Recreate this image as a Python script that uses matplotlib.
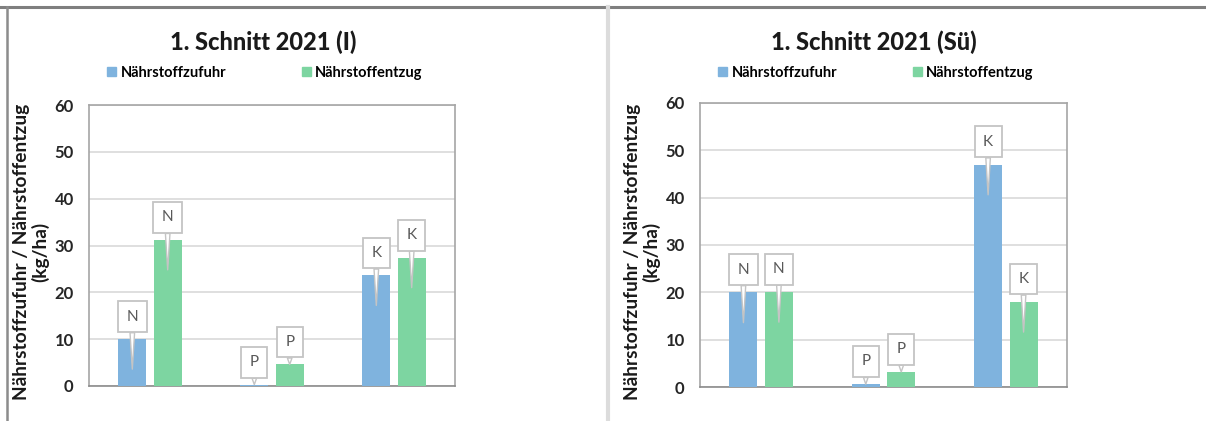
import matplotlib.pyplot as plt
import numpy as np
from matplotlib.lines import Line2D
from matplotlib.patches import Patch

plt.rcParams['font.family'] = ['Lato', 'DejaVu Sans']

# Data
naehrstoffe = ["N", "P", "K"]
titles = ["1. Schnitt 2021 (I)", "1. Schnitt 2021 (Sü)"]
zufuhr_I = [10.0, 0.3, 23.6]
entzug_I = [31.2, 4.6, 27.4]
zufuhr_Su = [20.0, 0.6, 47.0]
entzug_Su = [20.1, 3.2, 18.0]
series_names = ["Nährstoffzufuhr", "Nährstoffentzug"]
ylabel = "Nährstoffzufuhr / Nährstoffentzug\n(kg/ha)"

BLUE = "#7fb3de"
GREEN = "#7dd5a1"
W, H = 1206, 421

fig = plt.figure(figsize=(W / 100, H / 100), dpi=100)


def px(x, y):
    # pixel (from top-left) -> figure fraction
    return x / W, 1 - y / H


def callout(ax, x, value, label):
    box_y = value + 4.8
    tip = value - 6.4 if value > 8 else value
    ax.annotate(label, xy=(x, tip), xytext=(x, box_y), ha="center", va="center",
                fontsize=11, color="#595959",
                bbox=dict(boxstyle="square,pad=0.55", fc="white", ec="#c4c4c4", lw=1.3),
                arrowprops=dict(arrowstyle="wedge,tail_width=0.3,shrink_factor=0.5",
                                fc="white", ec="#c4c4c4", lw=1.0,
                                shrinkA=0, shrinkB=0),
                zorder=5)


def draw_panel(rect, zufuhr, entzug, title, cx, ylab_x):
    ax = fig.add_axes(rect)
    idx = np.arange(len(naehrstoffe))
    bw = 0.23
    off = 0.145
    ax.bar(idx - off, zufuhr, bw, color=BLUE, zorder=3)
    ax.bar(idx + off, entzug, bw, color=GREEN, zorder=3)
    for i, lab in enumerate(naehrstoffe):
        callout(ax, idx[i] - off, zufuhr[i], lab)
        callout(ax, idx[i] + off, entzug[i], lab)
    ax.set_xlim(-0.5, len(naehrstoffe) - 0.5)
    ax.set_ylim(0, 60)
    ax.set_yticks(range(0, 61, 10))
    ax.set_xticks([])
    ax.tick_params(axis="y", length=0, pad=11, labelsize=12)
    for t in ax.get_yticklabels():
        t.set_fontweight("bold")
        t.set_color("#262626")
    ax.grid(axis="y", color="#d9d9d9", lw=1.2, zorder=0)
    for s in ax.spines.values():
        s.set_color("#a6a6a6")
        s.set_linewidth(1.2)
    ax.spines["bottom"].set_color("#8c8c8c")

    fig.text(*px(cx, 42), title, ha="center", va="center", fontsize=17,
             fontweight="black", color="#1a1a1a")
    handles = [Patch(color=BLUE), Patch(color=GREEN)]
    fig.legend(handles, series_names, loc="center", bbox_to_anchor=px(cx + 2, 73),
               ncol=2, frameon=False, handlelength=0.6,
               handleheight=0.6, handletextpad=0.3, columnspacing=5.2,
               prop=dict(weight="bold", size=10.5))
    fig.text(*px(ylab_x, 252), ylabel, ha="center", va="center", rotation=90,
             fontsize=13.8, fontweight="bold", color="#1a1a1a", linespacing=1.1,
             multialignment="center")
    return ax


draw_panel([89 / W, 35 / H, 366 / W, 281 / H], zufuhr_I, entzug_I, titles[0], 263, 31)
draw_panel([700 / W, 34 / H, 367 / W, 284 / H], zufuhr_Su, entzug_Su, titles[1], 874, 642)

# outer chart frames
fig.add_artist(Line2D([0, 1], [1 - 7 / H] * 2, color="#7f7f7f", lw=2.2))
fig.add_artist(Line2D([6.5 / W] * 2, [0, 1 - 7 / H], color="#8c8c8c", lw=1.8))
fig.add_artist(Line2D([608 / W] * 2, [0, 1 - 7 / H], color="#dcdcdc", lw=3.0))

fig.savefig("out.png", dpi=100, facecolor="white")
